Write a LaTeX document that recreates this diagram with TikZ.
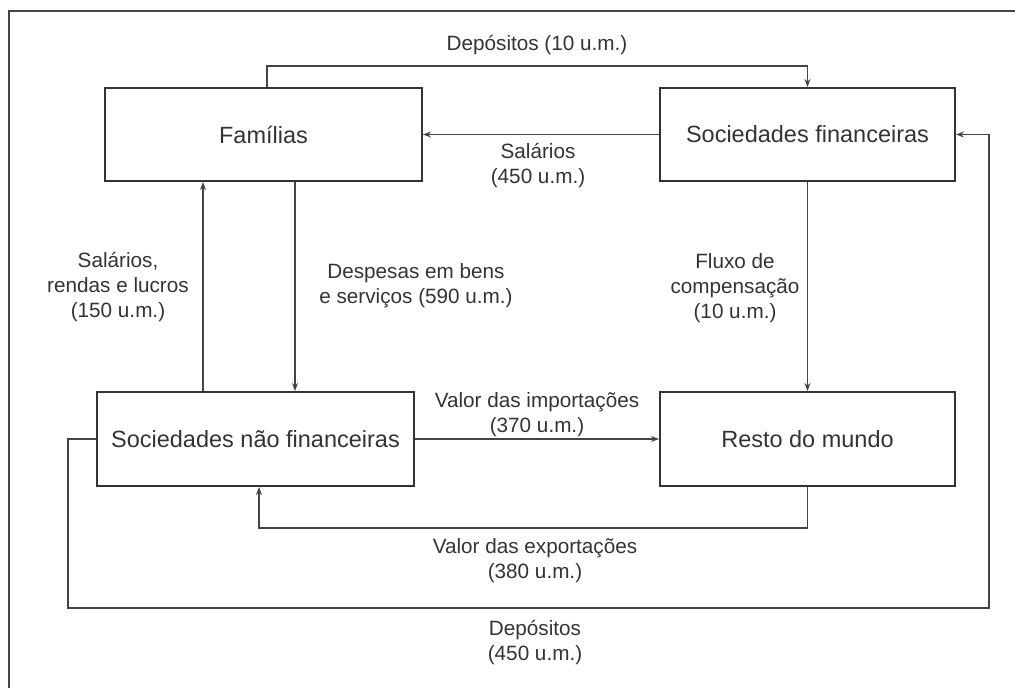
\documentclass[tikz,border=0pt]{standalone}
\usepackage{fontspec}
\setmainfont{Liberation Sans}
\usetikzlibrary{arrows.meta}
\definecolor{ink}{HTML}{333333}
\definecolor{linec}{HTML}{444444}
\begin{document}
\begin{tikzpicture}[x=1pt,y=-1pt,
  box/.style={draw=ink,line width=2pt,inner sep=0pt,text=ink,
    font=\fontsize{23.5}{28}\selectfont},
  conn/.style={draw=linec,line width=1.5pt},
  arr/.style={conn,-{Stealth[length=8pt,width=6pt]}},
  lbl/.style={text=ink,align=center,inner sep=0pt,
    font=\fontsize{20.7}{25}\selectfont},
  frame/.style={draw=linec,line width=2.2pt}]
\useasboundingbox (0,0) rectangle (1015,688);
\draw[frame] (9,688) -- (9,11) -- (1015,11);
% boxes
\node[box,minimum width=317pt,minimum height=93pt] (fam) at (263.5,134.5) {Famílias};
\node[box,minimum width=295pt,minimum height=93pt] (sf) at (807.5,134.5) {Sociedades financeiras};
\node[box,minimum width=317pt,minimum height=94pt] (snf) at (255.5,439) {Sociedades não financeiras};
\node[box,minimum width=295pt,minimum height=94pt] (rdm) at (807.5,439) {Resto do mundo};
% coordinates
\coordinate (d1) at (267,66);
\coordinate (up) at (203,300);
\coordinate (down) at (295,300);
\coordinate (ex) at (259,528);
\coordinate (dl) at (68,608);
\coordinate (dr) at (989,608);
% connectors
\draw[arr] (fam.north -| d1) -- (d1) -| (sf.north);
\draw[arr] (sf.west) -- (fam.east);
\draw[arr] (snf.north -| up) -- (fam.south -| up);
\draw[arr] (fam.south -| down) -- (snf.north -| down);
\draw[arr] (sf.south) -- (rdm.north);
\draw[arr] (snf.east) -- (rdm.west);
\draw[arr] (rdm.south) |- (ex) -- (snf.south -| ex);
\draw[arr] (snf.west) -| (dl) -- (dr) |- (sf.east);
% labels
\node[lbl] (l1) at (537,45) {Depósitos (10 u.m.)};
\node[lbl] (l2) at (538,165.5) {Salários\\(450 u.m.)};
\node[lbl] (l3) at (118,287.5) {Salários,\\rendas e lucros\\(150 u.m.)};
\node[lbl] (l4) at (416,285.5) {Despesas em bens\\e serviços (590 u.m.)};
\node[lbl] (l5) at (735,288) {Fluxo de\\compensação\\(10 u.m.)};
\node[lbl] (l6) at (537,414.5) {Valor das importações\\(370 u.m.)};
\node[lbl] (l7) at (535,560.5) {Valor das exportações\\(380 u.m.)};
\node[lbl] (l8) at (535,642.5) {Depósitos\\(450 u.m.)};
\end{tikzpicture}
\end{document}
